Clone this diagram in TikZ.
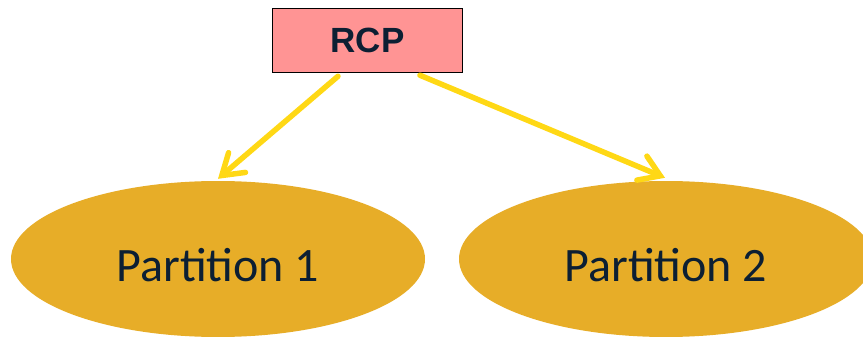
\documentclass[tikz,border=0pt]{standalone}
\usepackage{fontspec}
\setmainfont{Carlito}
\newfontfamily\arialbold{Liberation Sans}
\usetikzlibrary{shapes.geometric,arrows.meta,calc}
\definecolor{boxpink}{HTML}{FF9494}
\definecolor{ellgold}{HTML}{E7AD28}
\definecolor{arrowyellow}{HTML}{FFD815}
\definecolor{navytext}{HTML}{0C1F33}
\tikzset{
  rcpbox/.style={draw=black, line width=1.5pt, fill=boxpink, minimum width=190pt, minimum height=64pt, inner sep=0pt, text=navytext, font=\arialbold\bfseries\fontsize{35}{40}\selectfont},
  partell/.style={ellipse, fill=ellgold, minimum width=414pt, minimum height=156pt, inner sep=0pt},
  parttext/.style={text=navytext, font=\fontsize{48}{52}\selectfont, yshift=-6pt},
  yarrow/.style={draw=arrowyellow, line width=5.5pt, line cap=round, -{Straight Barb[length=20pt,width=26pt,line cap=round]}}
}
\begin{document}
\begin{tikzpicture}[x=1pt,y=-1pt]
\useasboundingbox (0,0) rectangle (863,337);
\node[rcpbox] (rcp) at (367.5,40.5) {RCP};
\node[partell, label={[parttext]center:Partition 1}] (p1) at (218,259) {};
\node[partell, label={[parttext]center:Partition 2}] (p2) at (666,259) {};
\coordinate (s1) at ($(rcp.south)+(-29.5pt,-3pt)$);
\coordinate (s2) at ($(rcp.south)+(52.5pt,-2pt)$);
\draw[yarrow] (s1) -- ($(p1.north)+(0,2pt)$);
\draw[yarrow] (s2) -- ($(p2.north)+(-1pt,3pt)$);
\end{tikzpicture}
\end{document}
